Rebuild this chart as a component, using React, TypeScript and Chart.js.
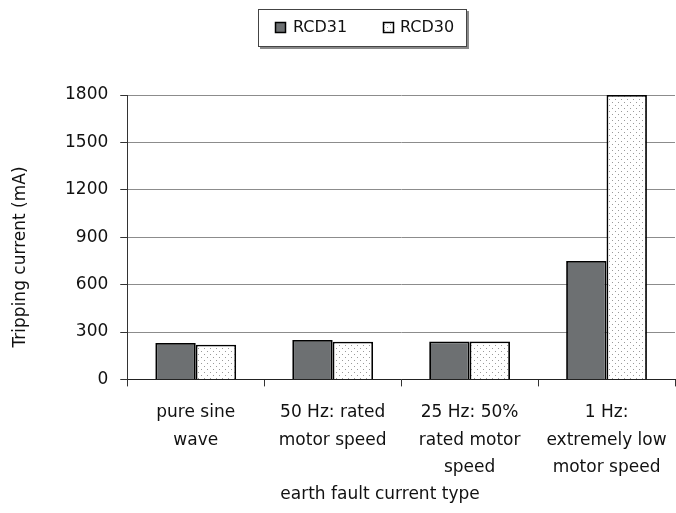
import React, { useEffect, useRef } from 'react';
import { Chart, registerables } from 'chart.js';

Chart.register(...registerables);

const categories: string[][] = [
  ['pure sine', 'wave'],
  ['50 Hz: rated', 'motor speed'],
  ['25 Hz: 50%', 'rated motor', 'speed'],
  ['1 Hz:', 'extremely low', 'motor speed'],
];
const seriesNames = ['RCD31', 'RCD30'];
const rcd31Values = [230, 250, 240, 750];
const rcd30Values = [220, 238, 240, 1800];
const yMin = 0;
const yMax = 1800;
const yStep = 300;
const xTitle = 'earth fault current type';
const yTitle = 'Tripping current (mA)';

const FONT = "'DejaVu Sans', 'Liberation Sans', sans-serif";
const DARK = '#6d7072';

function makeDots(): CanvasPattern | string {
  const c = document.createElement('canvas');
  c.width = 6;
  c.height = 6;
  const g = c.getContext('2d');
  if (!g) return '#eee';
  g.fillStyle = '#ffffff';
  g.fillRect(0, 0, 6, 6);
  g.fillStyle = '#9a9a9a';
  g.fillRect(0, 0, 1, 1);
  g.fillRect(3, 3, 1, 1);
  return g.createPattern(c, 'repeat') || '#eee';
}

export default function App() {
  const ref = useRef<HTMLCanvasElement | null>(null);

  useEffect(() => {
    if (!ref.current) return;
    const dots = makeDots();

    const decor = {
      id: 'decor',
      afterDraw(chart: any) {
        const ctx = chart.ctx as CanvasRenderingContext2D;
        ctx.save();
        // legend box with shadow
        ctx.fillStyle = '#8a8a8a';
        ctx.fillRect(260, 47, 209, 2);
        ctx.fillRect(467, 11, 2, 38);
        ctx.fillStyle = '#ffffff';
        ctx.fillRect(258, 9, 209, 38);
        ctx.strokeStyle = '#444';
        ctx.lineWidth = 1;
        ctx.strokeRect(258.5, 9.5, 208, 37);
        // legend items
        const items = [
          { x: 275, fill: DARK as any, tx: 293 },
          { x: 383, fill: dots as any, tx: 400 },
        ];
        items.forEach((it, i) => {
          ctx.fillStyle = it.fill;
          ctx.fillRect(it.x, 22, 10, 10);
          ctx.strokeStyle = '#000';
          ctx.lineWidth = 1.5;
          ctx.strokeRect(it.x + 0.5, 22.5, 10, 10);
          ctx.fillStyle = '#111';
          ctx.font = `16px ${FONT}`;
          ctx.textBaseline = 'middle';
          ctx.textAlign = 'left';
          ctx.fillText(seriesNames[i], it.tx, 28);
        });
        // axis titles
        ctx.fillStyle = '#111';
        ctx.font = `17px ${FONT}`;
        ctx.textAlign = 'center';
        ctx.textBaseline = 'middle';
        ctx.fillText(xTitle, 380, 495);
        ctx.translate(21, 257);
        ctx.rotate(-Math.PI / 2);
        ctx.fillText(yTitle, 0, 0);
        ctx.restore();
      },
    };

    const chart = new Chart(ref.current, {
      type: 'bar',
      data: {
        labels: categories,
        datasets: [
          {
            label: seriesNames[0],
            data: rcd31Values,
            backgroundColor: DARK,
            borderColor: '#000',
            borderWidth: 1.8,
          },
          {
            label: seriesNames[1],
            data: rcd30Values,
            backgroundColor: dots as any,
            borderColor: '#000',
            borderWidth: 1.8,
          },
        ],
      },
      options: {
        animation: false,
        responsive: false,
        maintainAspectRatio: false,
        layout: { padding: { top: 95, left: 53, right: 1, bottom: 19 } },
        plugins: {
          legend: { display: false },
          tooltip: { enabled: false },
        },
        datasets: {
          bar: { barPercentage: 1, categoryPercentage: 0.59 },
        },
        scales: {
          x: {
            afterFit: (scale: any) => {
              scale.paddingRight = 0;
              scale.paddingLeft = 0;
            },
            grid: {
              drawOnChartArea: false,
              drawTicks: true,
              tickLength: 7,
              tickColor: '#333',
              offset: true,
            },
            border: { display: true, color: '#222', width: 1 },
            ticks: {
              color: '#111',
              padding: 13,
              maxRotation: 0,
              autoSkip: false,
              font: { family: FONT, size: 17, lineHeight: 1.6 },
            },
          },
          y: {
            min: yMin,
            max: yMax,
            grid: {
              color: '#8c8c8c',
              lineWidth: 1,
              drawTicks: true,
              tickLength: 7,
              tickColor: '#333',
            },
            border: { display: true, color: '#333', width: 1 },
            ticks: {
              stepSize: yStep,
              color: '#111',
              padding: 12,
              font: { family: FONT, size: 17 },
              callback: (v: any) => String(v),
            },
          },
        },
      },
      plugins: [decor],
    });

    return () => chart.destroy();
  }, []);

  return (
    <div style={{ position: 'absolute', left: 0, top: 0, width: 676, height: 513, background: '#fff' }}>
      <canvas ref={ref} width={676} height={513} style={{ display: 'block', width: 676, height: 513 }} />
    </div>
  );
}
